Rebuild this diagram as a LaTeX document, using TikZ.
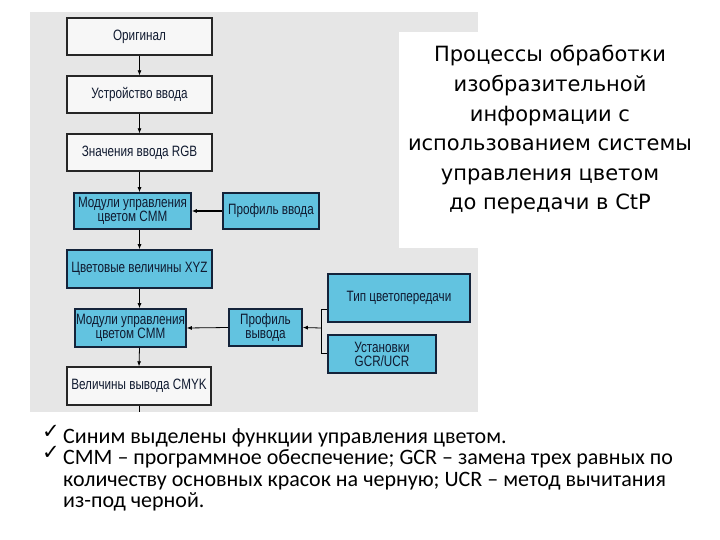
\documentclass[tikz,border=0pt]{standalone}
\usepackage{fontspec}
\usepackage{tikz}
\usetikzlibrary{positioning, arrows.meta}
\setmainfont{Carlito}
\newfontfamily\titlefont{DejaVu Sans}
\newfontfamily\boxfont[FakeStretch=0.78]{Liberation Sans}
\newfontfamily\tickfont{DejaVu Sans}
\definecolor{panelGrey}{HTML}{E6E6E6}
\definecolor{cmsBlue}{HTML}{62C3E0}
\definecolor{navyEdge}{HTML}{14233A}
\definecolor{paperWhite}{HTML}{F7F7F7}
\definecolor{inkDark}{HTML}{101A30}

\begin{document}
\begin{tikzpicture}[x=1pt,y=-1pt]
  \tikzset{flowbox/.style={draw=black!85,line width=1.3pt,fill=paperWhite,inner sep=1pt,align=center,font=\boxfont\fontsize{15}{14}\selectfont,text=inkDark},
    cmsbox/.style={flowbox,draw=navyEdge,line width=1.6pt,fill=cmsBlue},
    flowarrow/.style={-{Latex[length=5pt,width=4pt]},line width=0.8pt},
    notetext/.style={anchor=north west,inner sep=0pt,align=left,font=\fontsize{22}{21.4}\selectfont},
    tickmark/.style={anchor=center,inner sep=0pt,font=\tickfont\fontsize{21}{22}\selectfont}}
  \useasboundingbox (0,0) rectangle (720,540);
  \fill[panelGrey] (30,12) rectangle (478,412);
  \fill[white] (399,32) rectangle (720,248);
  \node[flowbox,minimum width=145pt,minimum height=37pt] (orig) at (139.5,36.5) {Оригинал};
  \node[flowbox,minimum width=145pt,minimum height=37pt] (indev) at (139.5,94.5) {Устройство ввода};
  \node[flowbox,minimum width=145pt,minimum height=37pt] (rgb) at (139.5,152.5) {Значения ввода RGB};
  \node[cmsbox,minimum width=117pt,minimum height=36pt] (cmma) at (132.5,211) {Модули управления\\цветом CMM};
  \node[cmsbox,minimum width=96pt,minimum height=36pt] (profin) at (271,211) {Профиль ввода};
  \node[cmsbox,minimum width=145pt,minimum height=38pt] (xyz) at (139.5,269) {Цветовые величины XYZ};
  \node[cmsbox,minimum width=107pt,minimum height=38pt] (cmmb) at (130.5,328) {Модули управления\\цветом CMM};
  \node[cmsbox,minimum width=73pt,minimum height=37pt] (profout) at (265.5,327.5) {Профиль\\вывода};
  \node[cmsbox,minimum width=142pt,minimum height=48pt] (ctype) at (399,298) {Тип цветопередачи};
  \node[cmsbox,minimum width=108pt,minimum height=38pt] (gcr) at (382,354) {Установки\\GCR/UCR};
  \node[flowbox,minimum width=144pt,minimum height=38pt] (cmyk) at (139,386) {Величины вывода CMYK};
  \draw[flowarrow] (orig.south) -- (indev.north);
  \draw[flowarrow] (indev.south) -- (rgb.north);
  \draw[flowarrow] (rgb.south) -- (rgb.south |- cmma.north);
  \draw[flowarrow] (rgb.south |- cmma.south) -- (xyz.north);
  \draw[flowarrow] (xyz.south) -- (xyz.south |- cmmb.north);
  \draw[flowarrow] (xyz.south |- cmmb.south) -- (cmyk.north);
  \draw[flowarrow,line width=1.8pt] (profin.west) -- (cmma.east);
  \draw[flowarrow] (profout.west) -- (cmmb.east);
  \coordinate (brk) at (321,328);
  \coordinate (stubA) at (321,309);
  \coordinate (stubB) at (321,353);
  \coordinate (cut) at (139,412);
  \draw[line width=0.8pt] (stubA -| ctype.west) -- (stubA) -- (stubB) -- (stubB -| gcr.west);
  \draw[flowarrow] (brk) -- (profout.east);
  \draw[line width=0.8pt] (cmyk.south) -- (cut);
  \node[align=center,inner sep=0pt,font=\titlefont\fontsize{21}{29.6}\selectfont] (title) at (550,130) {Процессы обработки\\изобразительной\\информации с\\использованием системы\\управления цветом\\до передачи в CtP};
  \node[tickmark] (tick1) at (51,432) {✓};
  \node[tickmark] (tick2) at (51,453) {✓};
  \node[notetext] (note1) at (63,428) {Синим выделены функции управления цветом.};
  \node[notetext] (note2) at (63,449.5) {CMM – программное обеспечение; GCR – замена трех равных по\\количеству основных красок на черную; UCR – метод вычитания\\из-под черной.};
\end{tikzpicture}
\end{document}
